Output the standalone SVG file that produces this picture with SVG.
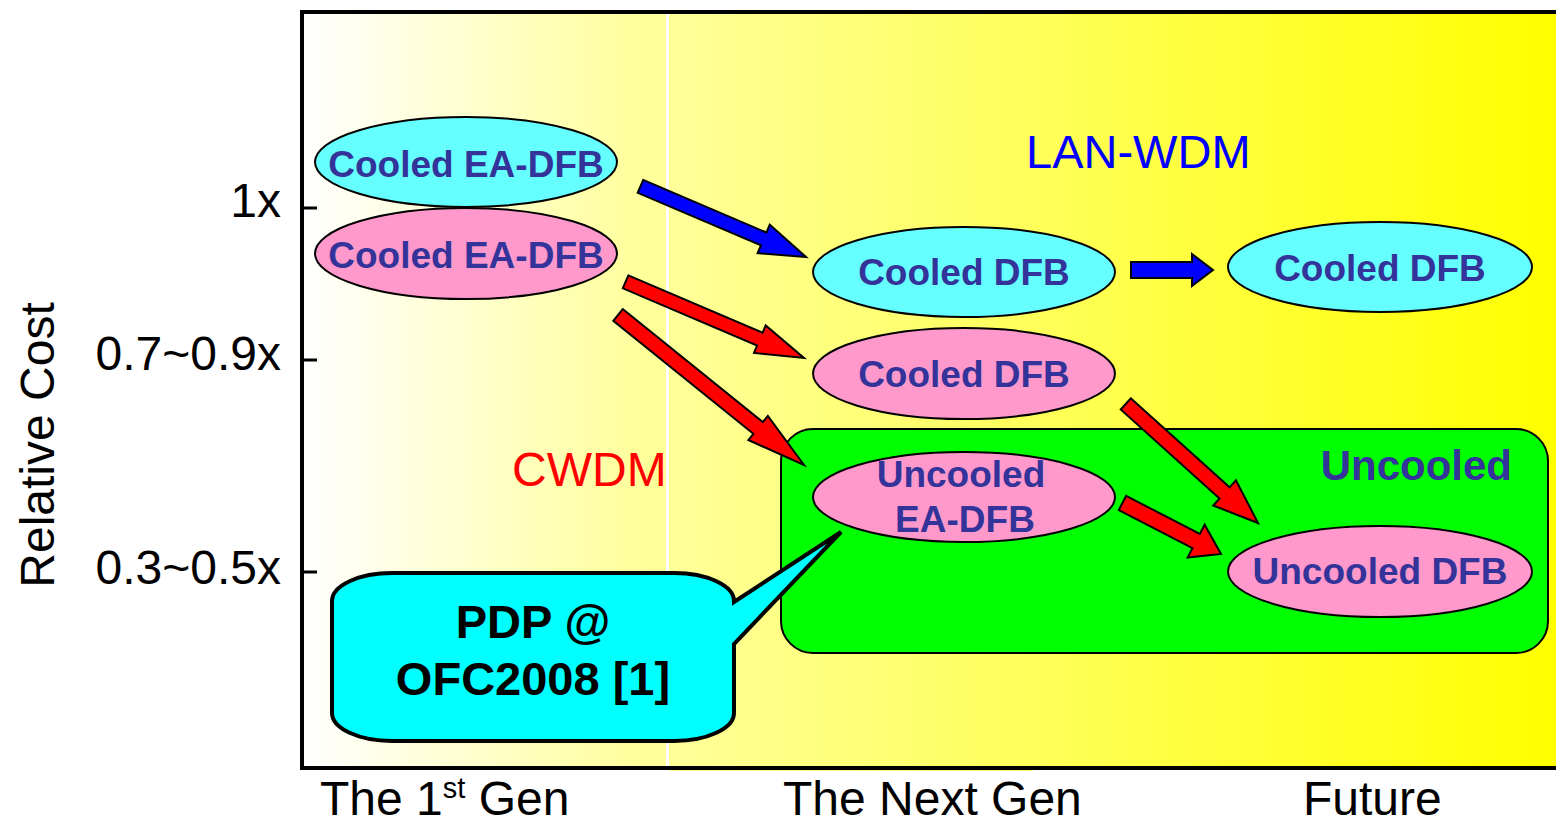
<svg xmlns="http://www.w3.org/2000/svg" width="1556" height="825" viewBox="0 0 1556 825">
  <defs>
    <linearGradient id="bgLeft" gradientUnits="userSpaceOnUse" x1="303" y1="0" x2="650" y2="0">
      <stop offset="0" stop-color="#FFFFFF"/>
      <stop offset="1" stop-color="#FFFF99"/>
    </linearGradient>
    <linearGradient id="bgRight" gradientUnits="userSpaceOnUse" x1="669" y1="0" x2="1556" y2="0">
      <stop offset="0" stop-color="#FFFF99"/>
      <stop offset="1" stop-color="#FFFF00"/>
    </linearGradient>
    <style>
      .ax { font-family: "Liberation Sans", Arial, sans-serif; font-size: 48px; fill: #000000; }
      .lbl { font-family: "Liberation Sans", Arial, sans-serif; font-size: 37px; font-weight: bold; fill: #333399; text-anchor: middle; }
      .node { stroke: #000000; stroke-width: 2; }
      .cyan { fill: #66FFFF; }
      .pink { fill: #FF99CC; }
      .arrow { stroke: #000000; stroke-width: 2; stroke-linejoin: miter; }
      .blue { fill: #0000FF; }
      .red { fill: #FF0000; }
    </style>
  </defs>

  <!-- plot background: two shaded eras separated by a white rule -->
  <g id="background">
    <rect x="303" y="14" width="364" height="752" fill="url(#bgLeft)"/>
    <rect x="669" y="14" width="887" height="752" fill="url(#bgRight)"/>
    <rect x="666" y="14" width="3" height="752" fill="#FFFFFF"/>
    <rect x="669" y="769" width="364" height="2" fill="url(#bgRight)"/>
  </g>

  <!-- axes and ticks -->
  <g id="axes" fill="none" stroke="#000000">
    <path d="M1556,12 H302 V768 H1556" stroke-width="4"/>
    <path d="M302,208 H317 M302,360 H317 M302,572 H317" stroke-width="3"/>
  </g>

  <!-- axis labels -->
  <g id="axis-labels" class="ax">
    <text x="281" y="217" text-anchor="end">1x</text>
    <text x="281" y="370" text-anchor="end">0.7~0.9x</text>
    <text x="281" y="584" text-anchor="end">0.3~0.5x</text>
    <text transform="translate(54,445) rotate(-90)" text-anchor="middle">Relative Cost</text>
    <text x="320" y="815">The 1<tspan font-size="29" dy="-17">st</tspan><tspan dy="17"> Gen</tspan></text>
    <text x="783" y="815">The Next Gen</text>
    <text x="1303" y="815">Future</text>
  </g>

  <!-- uncooled region -->
  <g id="uncooled-region">
    <rect x="781" y="429" width="767" height="224" rx="32" ry="32" fill="#00FF00" stroke="#000000" stroke-width="2"/>
    <text x="1512" y="480" text-anchor="end" font-family="'Liberation Sans', Arial, sans-serif" font-size="42" font-weight="bold" fill="#333399">Uncooled</text>
  </g>

  <!-- technology labels -->
  <text id="lan-wdm" x="1026" y="168" font-family="'Liberation Sans', Arial, sans-serif" font-size="47" fill="#0000FF">LAN-WDM</text>
  <text id="cwdm" x="512" y="486" font-family="'Liberation Sans', Arial, sans-serif" font-size="48" fill="#FF0000">CWDM</text>

  <!-- nodes -->
  <g id="lan-cooled-ea-dfb">
    <ellipse class="node cyan" cx="466" cy="162" rx="151" ry="45"/>
    <text class="lbl" x="466" y="177">Cooled EA-DFB</text>
  </g>
  <g id="cwdm-cooled-ea-dfb">
    <ellipse class="node pink" cx="466" cy="253.5" rx="151" ry="45.5"/>
    <text class="lbl" x="466" y="268">Cooled EA-DFB</text>
  </g>
  <g id="lan-cooled-dfb-next">
    <ellipse class="node cyan" cx="964" cy="272" rx="151" ry="45"/>
    <text class="lbl" x="964" y="285">Cooled DFB</text>
  </g>
  <g id="cwdm-cooled-dfb-next">
    <ellipse class="node pink" cx="964" cy="373.5" rx="151" ry="45.5"/>
    <text class="lbl" x="964" y="387">Cooled DFB</text>
  </g>
  <g id="cwdm-uncooled-ea-dfb">
    <ellipse class="node pink" cx="964" cy="497" rx="151" ry="45"/>
    <text class="lbl" x="961" y="487">Uncooled</text>
    <text class="lbl" x="965" y="532">EA-DFB</text>
  </g>
  <g id="lan-cooled-dfb-future">
    <ellipse class="node cyan" cx="1380" cy="267" rx="152" ry="45"/>
    <text class="lbl" x="1380" y="281">Cooled DFB</text>
  </g>
  <g id="cwdm-uncooled-dfb-future">
    <ellipse class="node pink" cx="1380" cy="571.5" rx="152" ry="45.5"/>
    <text class="lbl" x="1380" y="584">Uncooled DFB</text>
  </g>

  <!-- block arrows: drawn along +x with the tip at the origin, then placed -->
  <g id="connectors">
    <polygon class="arrow blue" transform="translate(806,257) rotate(23.1)"
      points="-180,-7 -46,-7 -46,-15.5 0,0 -46,15.5 -46,7 -180,7"/>
    <polygon class="arrow blue" transform="translate(1213,270)"
      points="-82,-8 -21,-8 -21,-16 0,0 -21,16 -21,8 -82,8"/>
    <polygon class="arrow red" transform="translate(804,358) rotate(23.1)"
      points="-194,-7 -48,-7 -48,-15 0,0 -48,15 -48,7 -194,7"/>
    <polygon class="arrow red" transform="translate(804,465) rotate(38.9)"
      points="-239,-7.5 -59,-7.5 -59,-15.5 0,0 -59,15.5 -59,7.5 -239,7.5"/>
    <polygon class="arrow red" transform="translate(1258,523) rotate(42)"
      points="-178,-7.5 -45,-7.5 -45,-17 0,0 -45,17 -45,7.5 -178,7.5"/>
    <polygon class="arrow red" transform="translate(1221,554) rotate(27.4)"
      points="-111,-8 -28,-8 -28,-18.5 0,0 -28,18.5 -28,8 -111,8"/>
  </g>

  <!-- callout pointing at the uncooled EA-DFB -->
  <g id="callout-pdp">
    <path d="M392,573 H674 A60,28 0 0 1 734,601 V602 L841,532 L734,644 V713 A60,28 0 0 1 674,741 H392 A60,28 0 0 1 332,713 V601 A60,28 0 0 1 392,573 Z"
      fill="#00FFFF" stroke="#000000" stroke-width="4" stroke-linejoin="miter"/>
    <text x="533" y="638" text-anchor="middle" font-family="'Liberation Sans', Arial, sans-serif" font-size="47" font-weight="bold" fill="#000000">PDP @</text>
    <text x="533" y="695" text-anchor="middle" font-family="'Liberation Sans', Arial, sans-serif" font-size="47" font-weight="bold" fill="#000000">OFC2008 [1]</text>
  </g>
</svg>
